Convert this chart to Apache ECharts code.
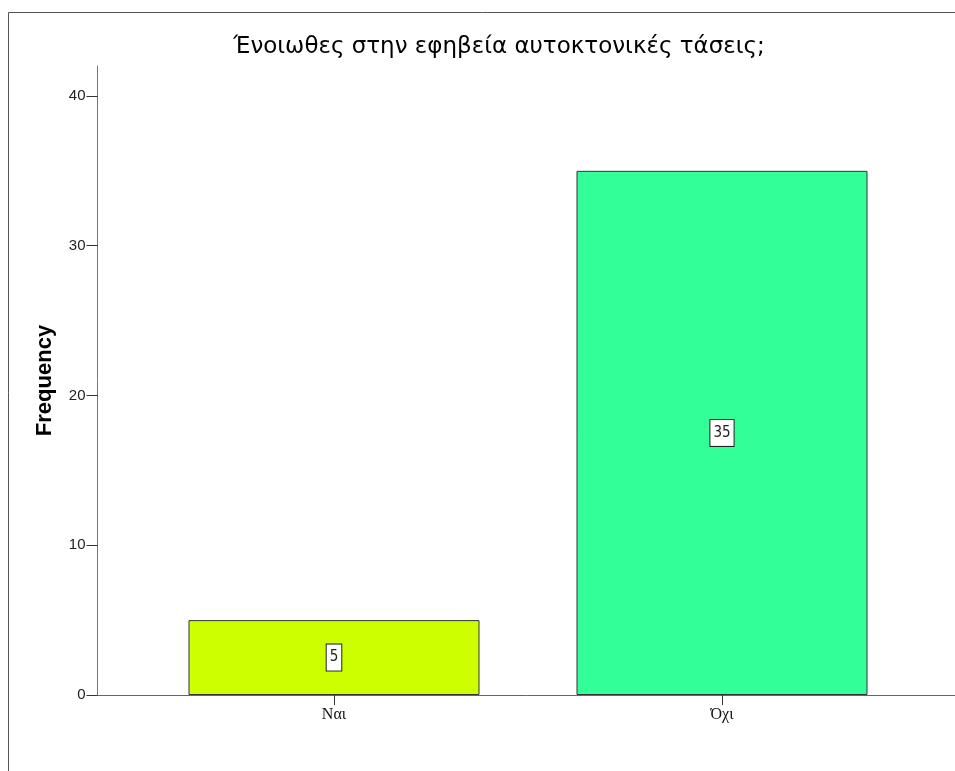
<!DOCTYPE html>
<html>
<head>
<meta charset="utf-8">
<script src="https://cdn.jsdelivr.net/npm/echarts@6/dist/echarts.min.js"></script>
<style>
  html, body { margin: 0; padding: 0; background: #fff; }
  #chart { width: 955px; height: 771px; }
</style>
</head>
<body>
<div id="chart"></div>
<script>
const titleText = 'Ένοιωθες στην εφηβεία αυτοκτονικές τάσεις;';
const categories = ['Ναι', 'Όχι'];
const frequencies = [5, 35];
const barColors = ['#ccff00', '#33ff99'];
const yTicks = [0, 10, 20, 30, 40];
const yAxisName = 'Frequency';

const positions = categories.map((c, i) => i + 1);

const chart = echarts.init(document.getElementById('chart'), null, { renderer: 'canvas' });
chart.setOption({
  animation: false,
  backgroundColor: '#ffffff',
  title: {
    text: titleText,
    left: 494, top: 31, textAlign: 'center',
    textStyle: { fontFamily: 'DejaVu Sans', fontSize: 23, fontWeight: 'normal', color: '#000' }
  },
  graphic: [{
    type: 'rect', silent: true,
    shape: { x: 8.5, y: 12.5, width: 1000, height: 800 },
    style: { fill: 'none', stroke: '#555', lineWidth: 1 }
  }],
  grid: { left: 97.5, top: 66, right: 0, bottom: 76, containLabel: false },
  xAxis: {
    type: 'value',
    min: 0.3905, max: 2.6005,
    splitLine: { show: false },
    axisLine: { show: true, onZero: false, lineStyle: { color: '#666', width: 1 } },
    axisTick: { show: true, length: 10, customValues: positions, lineStyle: { color: '#333' } },
    axisLabel: {
      customValues: positions, margin: 12,
      formatter: v => categories[Math.round(v) - 1] || '',
      fontFamily: 'Liberation Serif', fontSize: 16, color: '#111'
    }
  },
  yAxis: {
    type: 'value', min: 0, max: 42,
    name: yAxisName, nameLocation: 'middle', nameGap: 42,
    nameTextStyle: { fontFamily: 'Liberation Sans', fontSize: 22, fontWeight: 'bold', color: '#000' },
    splitLine: { show: false },
    axisLine: { show: true, lineStyle: { color: '#777', width: 1 } },
    axisTick: { show: true, length: 11, customValues: yTicks, lineStyle: { color: '#333' } },
    axisLabel: {
      customValues: yTicks, margin: 12,
      fontFamily: 'Liberation Sans', fontSize: 15, color: '#222'
    }
  },
  series: [{
    type: 'bar',
    barWidth: 291,
    data: frequencies.map((v, i) => ({
      value: [positions[i], v],
      itemStyle: { color: barColors[i], borderColor: '#333', borderWidth: 1 }
    })),
    label: {
      show: true, position: 'inside',
      formatter: p => p.value[1],
      fontFamily: 'DejaVu Sans Condensed', fontSize: 15, lineHeight: 16, color: '#222',
      backgroundColor: '#fff', borderColor: '#222', borderWidth: 1,
      padding: [5, 3, 5, 3]
    }
  }]
});
</script>
</body>
</html>
